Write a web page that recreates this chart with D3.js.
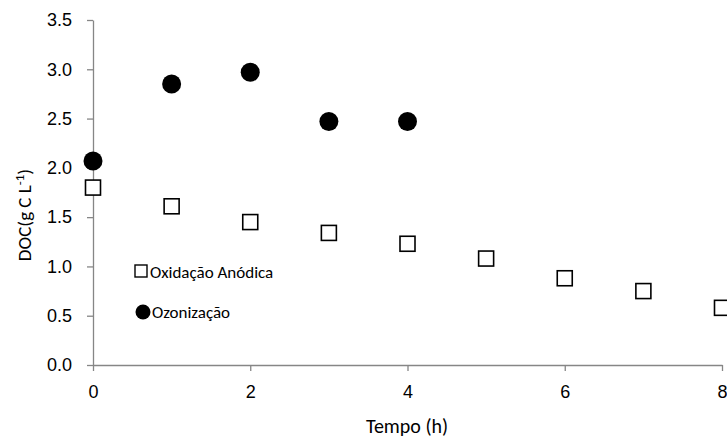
<!DOCTYPE html>
<meta charset="utf-8">
<html>
<head>
<style>
  body { margin: 0; background: #fff; }
  svg { font-family: Calibri, Carlito, "Open Sans", sans-serif; }
  .axis path, .axis line { stroke: #868686; stroke-width: 1.3px; }
  .axis text { font-size: 18px; fill: #000; }
</style>
</head>
<body>
<svg width="727" height="439"></svg>
<script src="https://cdn.jsdelivr.net/npm/d3@7"></script>
<script>
// data
var tempoAnodica = [0, 1, 2, 3, 4, 5, 6, 7, 8];
var docAnodica   = [1.80, 1.61, 1.45, 1.34, 1.23, 1.08, 0.88, 0.75, 0.58];
var tempoOzon    = [0, 1, 2, 3, 4];
var docOzon      = [2.07, 2.85, 2.97, 2.47, 2.47];
var xTicks = [0, 2, 4, 6, 8];
var yTicks = [0, 0.5, 1, 1.5, 2, 2.5, 3, 3.5];

var svg = d3.select("svg");

var x = d3.scaleLinear().domain([0, 8]).range([93, 722]);
var y = d3.scaleLinear().domain([0, 3.5]).range([365, 20]);

// x axis
svg.append("g")
    .attr("class", "axis")
    .attr("transform", "translate(0," + y(0) + ")")
    .call(d3.axisBottom(x).tickValues(xTicks).tickSize(6).tickSizeOuter(0).tickPadding(14)
      .tickFormat(d3.format("d")));

// y axis
svg.append("g")
    .attr("class", "axis")
    .attr("transform", "translate(" + x(0) + ",0)")
    .call(d3.axisLeft(y).tickValues(yTicks).tickSize(6).tickSizeOuter(0).tickPadding(15)
      .tickFormat(d3.format(".1f")));

svg.selectAll(".axis .domain").attr("fill", "none");

// squares
var sq = 15;
svg.selectAll("rect.anodica")
    .data(tempoAnodica)
  .enter().append("rect")
    .attr("class", "anodica")
    .attr("x", function(d) { return x(d) - sq / 2; })
    .attr("y", function(d, i) { return y(docAnodica[i]) - sq / 2; })
    .attr("width", sq)
    .attr("height", sq)
    .attr("fill", "#fff")
    .attr("stroke", "#000")
    .attr("stroke-width", 1.6);

// circles
svg.selectAll("circle.ozon")
    .data(tempoOzon)
  .enter().append("circle")
    .attr("class", "ozon")
    .attr("cx", function(d) { return x(d); })
    .attr("cy", function(d, i) { return y(docOzon[i]); })
    .attr("r", 9.5)
    .attr("fill", "#000");

// legend
var leg = svg.append("g").attr("font-size", 17);
leg.append("rect")
    .attr("x", 135).attr("y", 265).attr("width", 12).attr("height", 12)
    .attr("fill", "#fff").attr("stroke", "#000").attr("stroke-width", 1.4);
leg.append("text").attr("x", 150).attr("y", 278).text("Oxidação Anódica");
leg.append("circle").attr("cx", 143).attr("cy", 312).attr("r", 7.5).attr("fill", "#000");
leg.append("text").attr("x", 152).attr("y", 318).text("Ozonização");

// axis titles
svg.append("text")
    .attr("x", 407).attr("y", 433)
    .attr("text-anchor", "middle")
    .attr("font-size", 20)
    .text("Tempo (h)");

var yl = svg.append("text")
    .attr("transform", "translate(31,215) rotate(-90)")
    .attr("text-anchor", "middle")
    .attr("font-size", 19);
yl.append("tspan").text("DOC(g C L");
yl.append("tspan").attr("dy", -7).attr("font-size", 13).text("-1");
yl.append("tspan").attr("dy", 7).text(")");
</script>
</body>
</html>
